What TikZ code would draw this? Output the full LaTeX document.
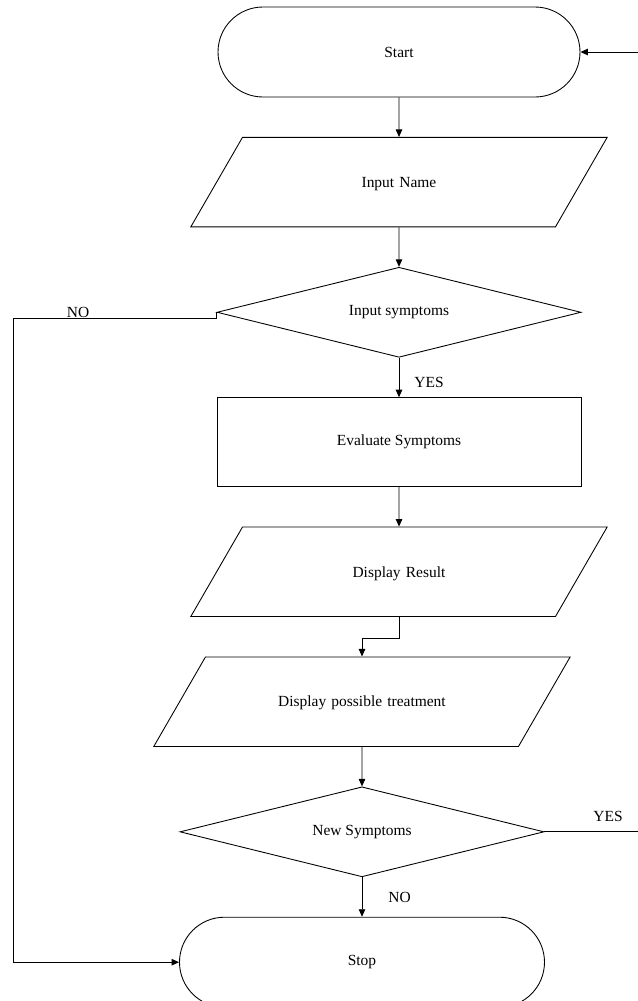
\documentclass[tikz,border=0pt]{standalone}
\usepackage{fontspec}
\setmainfont{Liberation Serif}
\usetikzlibrary{arrows.meta,positioning,shapes.geometric}

\begin{document}
\begin{tikzpicture}[
  >={Triangle[length=1.5mm,width=1.3mm]},
  node distance=7.9mm,
  line width=0.5pt,
  every node/.style={font=\fontsize{8.8}{10}\selectfont},
  term/.style={draw, rounded corners=9mm, minimum width=7.24cm, minimum height=1.8cm},
  io/.style={trapezium, draw, trapezium left angle=60, trapezium right angle=120, text width=6.26cm, align=center, text height=1cm, text depth=0.79cm, inner sep=0pt},
  proc/.style={draw, minimum width=7.28cm, minimum height=1.78cm},
  dec/.style={diamond, draw, aspect=4, minimum width=7.28cm, minimum height=1.8cm, inner sep=0pt},
  lbl/.style={inner sep=0pt}
]
\useasboundingbox (0,0) rectangle (12.76,-20.02);
\node[term] (start) at (7.98,-1.04) {Start};
\node[io, below=of start] (name) {Input Name};
\node[dec, below=of name] (sym) {Input symptoms};
\node[proc, below=of sym] (eval) {Evaluate Symptoms};
\node[io, below=of eval] (result) {Display Result};
\node[io, below=of result, xshift=-7.4mm] (treat) {Display possible treatment};
\node[dec, below=of treat] (news) {New Symptoms};
\node[term, below=of news, minimum width=7.3cm] (stop) {Stop};
\coordinate (leftx) at (0.26,0);
\coordinate (rightx) at (12.76,0);
\coordinate (backin) at (12.76,-1.04);
\draw[->] (backin) -- (start);
\draw[->] (start) -- (name);
\draw[->] (name) -- (sym);
\draw[->] (sym) -- node[lbl, right=3mm, yshift=-1mm] (yes1) {YES} (eval);
\draw[->] (eval) -- (result);
\draw[->] (result.south) -- ++(0,-0.42) -| (treat.north);
\draw[->] (treat) -- (news);
\draw[->] (news) -- node[lbl, right=5.2mm] (no2) {NO} (stop);
\draw (news.east) -- (news.east -| rightx) node[lbl, above=2mm, pos=0.68] (yes2) {YES};
\draw[->] (sym.west) -- ++(0,-0.12) coordinate (nobend) -- (nobend -| leftx) node[lbl, above, pos=0.68] (no1) {NO} |- (stop.west);
\end{tikzpicture}
\end{document}
